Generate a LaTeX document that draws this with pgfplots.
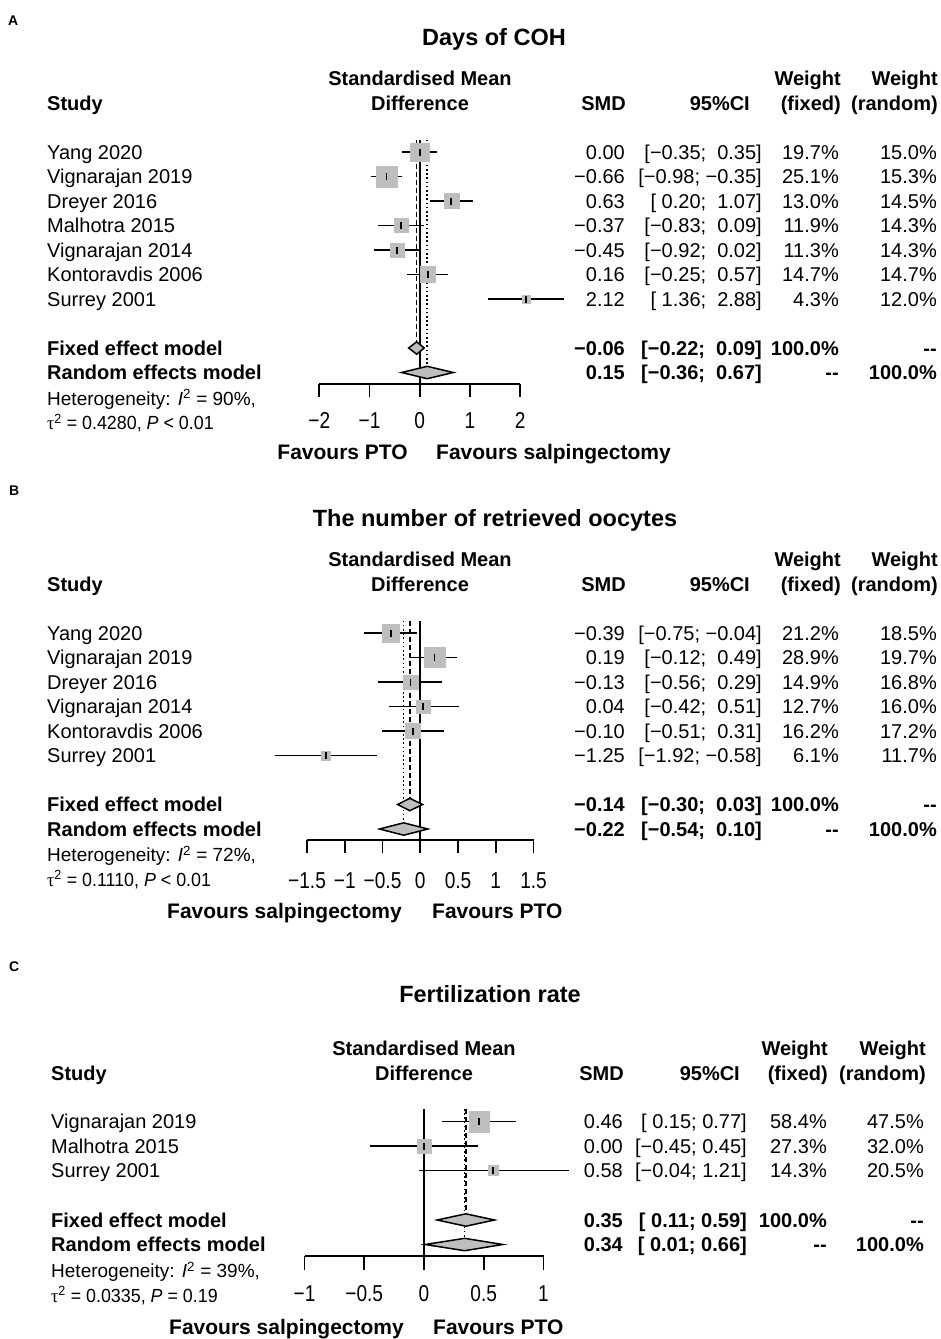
\documentclass[border=0pt]{standalone}
\usepackage{fontspec}
\setmainfont{Liberation Sans}
\newfontfamily\serif{Liberation Serif}
\usepackage{graphicx}
\usepackage{pgfplots}
\usepackage{pgfplotstable}
\pgfplotsset{compat=1.18}
\definecolor{sqgray}{HTML}{BEBEBE}

\newcommand\fs{\fontsize{20}{24}\selectfont}
\newcommand\fsh{\fontsize{19}{23}\selectfont}
\newcommand\fst{\fontsize{23.5}{28}\selectfont\bfseries}
\newcommand\fsl{\fontsize{14}{17}\selectfont\bfseries}
\newcommand\fsf{\fontsize{21}{25}\selectfont\bfseries}
\newcommand\fstick{\fontsize{23}{27}\selectfont}
\newcommand\tl[1]{\scalebox{0.83}[1]{#1}}
\newcommand\nr[1]{\scalebox{0.94}[1]{#1}}

% text helpers: x, centre-y (pixels from top), text
\newcommand\TL[3]{\node[anchor=base west,yshift=-7.2pt] at (#1pt,-#2pt) {#3};}
\newcommand\TR[3]{\node[anchor=base east,yshift=-7.2pt] at (#1pt,-#2pt) {#3};}
\newcommand\TC[3]{\node[anchor=base,yshift=-7.2pt] at (#1pt,-#2pt) {#3};}
% row: y, name, smd, ci, wf, wr (column edges from \xN \xS \xC \xF \xR)
\newcommand\Row[6]{%
  \TL{\xN}{#1}{#2}\TR{\xS}{#1}{#3}\TR{\xC}{#1}{#4}\TR{\xF}{#1}{#5}\TR{\xR}{#1}{#6}}

\pgfplotstableread{
py est lo hi wf
152 0.00 -0.35 0.35 19.7
176.5 -0.66 -0.98 -0.35 25.1
201 0.63 0.20 1.07 13.0
225.5 -0.37 -0.83 0.09 11.9
250 -0.45 -0.92 0.02 11.3
274.5 0.16 -0.25 0.57 14.7
299 2.12 1.36 2.88 4.3
}\tabA
\pgfplotstableread{
py est lo hi wf
633 -0.39 -0.75 -0.04 21.2
657.5 0.19 -0.12 0.49 28.9
682 -0.13 -0.56 0.29 14.9
706.5 0.04 -0.42 0.51 12.7
731 -0.10 -0.51 0.31 16.2
755.5 -1.25 -1.92 -0.58 6.1
}\tabB
\pgfplotstableread{
py est lo hi wf
1121.5 0.46 0.15 0.77 58.4
1146 0.00 -0.45 0.45 27.3
1170.5 0.58 -0.04 1.21 14.3
}\tabC

\pgfplotsset{
  forest/.style={scale only axis, clip=false, anchor=south west,
    axis x line=bottom, axis y line=none,
    x axis line style={-, line width=1.7pt, black},
    tick align=outside, x tick style={line width=1.7pt, black},
    xticklabel style={font=\fstick, anchor=north, inner sep=0pt, text height=16.5pt, text depth=0pt},
  },
  sq/.style={scatter, only marks, mark=square*,
    scatter/use mapped color={draw=sqgray, fill=sqgray},
    visualization depends on={#1*sqrt(\thisrow{wf}) \as \ms},
    scatter/@pre marker code/.append style={/tikz/mark size=\ms}},
  ci/.style={black, only marks, mark=|, mark size=3.5pt, mark options={line width=1.7pt},
    error bars/.cd, x dir=both, x explicit, error mark=none,
    error bar style={line width=1.8pt, black}},
  dia/.style={fill=sqgray, draw=black, line width=1.5pt},
  ref/.style={black, line width=1.7pt},
  fix/.style={black, line width=1.6pt, dash pattern=on 5pt off 3pt},
  ran/.style={black, line width=1.5pt, dash pattern=on 1.6pt off 2.6pt},
}

\begin{document}
\begin{tikzpicture}[every node/.append style={font=\fs, inner sep=0pt}]
\path[use as bounding box] (0pt,0pt) rectangle (940pt,-1339pt);

%% ================= Panel A =================
\begin{axis}[forest, at={(319.3pt,-384.3pt)},
  width=200.8pt, height=245.3pt, xmin=-2, xmax=2, ymin=-384.3, ymax=-139,
  xtick={-2,-1,0,1,2}, xticklabels={\tl{−2},\tl{−1},\tl{0},\tl{1},\tl{2}},
  major tick length=12.5pt, xticklabel style={yshift=-15pt}]
\addplot[sq=2.065] table[x=est, y expr=-\thisrow{py}] {\tabA};
\addplot[ref] coordinates {(0,-139.5) (0,-384.3)};
\addplot[fix] coordinates {(-0.06,-139.5) (-0.06,-342.1)};
\addplot[ran] coordinates {(0.15,-139.5) (0.15,-366.5)};
\addplot[ci] table[x=est, y expr=-\thisrow{py}, x error plus expr=\thisrow{hi}-\thisrow{est}, x error minus expr=\thisrow{est}-\thisrow{lo}] {\tabA};
\addplot[dia] coordinates {(-0.22,-348) (-0.06,-341.8) (0.09,-348) (-0.06,-354.2)} -- cycle;
\addplot[dia] coordinates {(-0.36,-372.5) (0.15,-366.3) (0.67,-372.5) (0.15,-378.7)} -- cycle;
\end{axis}

\node[anchor=base west,font=\fsl] at (8pt,-25pt) {A};
\node[anchor=base,font=\fst] at (494pt,-45.5pt) {Days of COH};
\begin{scope}[every node/.append style={font=\fs\bfseries}]
\TL{47}{103}{Study}
\TC{420}{78.5}{Standardised Mean}
\TC{420}{103}{Difference}
\TR{626}{103}{SMD}
\TR{750}{103}{95\%CI}
\TR{841}{78.5}{Weight}\TR{841}{103}{(fixed)}
\TR{938}{78.5}{Weight}\TR{938}{103}{(random)}
\end{scope}
\def\xN{47}\def\xS{625}\def\xC{762}\def\xF{839}\def\xR{937}
\Row{152}{Yang 2020}{0.00}{[−0.35;\ \ 0.35]}{19.7\%}{15.0\%}
\Row{176.5}{Vignarajan 2019}{−0.66}{[−0.98; −0.35]}{25.1\%}{15.3\%}
\Row{201}{Dreyer 2016}{0.63}{[\ 0.20;\ \ 1.07]}{13.0\%}{14.5\%}
\Row{225.5}{Malhotra 2015}{−0.37}{[−0.83;\ \ 0.09]}{11.9\%}{14.3\%}
\Row{250}{Vignarajan 2014}{−0.45}{[−0.92;\ \ 0.02]}{11.3\%}{14.3\%}
\Row{274.5}{Kontoravdis 2006}{0.16}{[−0.25;\ \ 0.57]}{14.7\%}{14.7\%}
\Row{299}{Surrey 2001}{2.12}{[\ 1.36;\ \ 2.88]}{4.3\%}{12.0\%}
\begin{scope}[every node/.append style={font=\fs\bfseries}]
\Row{348}{Fixed effect model}{−0.06}{[−0.22;\ \ 0.09]}{100.0\%}{-{}-}
\Row{372.5}{Random effects model}{0.15}{[−0.36;\ \ 0.67]}{-{}-}{100.0\%}
\end{scope}
\begin{scope}[every node/.append style={font=\fsh}]
\TL{47}{398}{Heterogeneity: \textit{I}\textsuperscript{2} = 90\%,}
\TL{47}{422.5}{\nr{{\serif τ}\textsuperscript{2} = 0.4280, \textit{P} < 0.01}}
\end{scope}
\begin{scope}[every node/.append style={font=\fsf}]
\TR{408}{452}{Favours PTO}
\TL{436}{452}{Favours salpingectomy}
\end{scope}

%% ================= Panel B =================
\begin{axis}[forest, at={(307.05pt,-840pt)},
  width=226.5pt, height=219.5pt, xmin=-1.5, xmax=1.5, ymin=-840, ymax=-620.5,
  xtick={-1.5,-1,-0.5,0,0.5,1,1.5},
  xticklabels={\tl{−1.5},\tl{−1},\tl{−0.5},\tl{0},\tl{0.5},\tl{1},\tl{1.5}},
  major tick length=13pt, xticklabel style={yshift=-18.7pt}]
\addplot[sq=1.89] table[x=est, y expr=-\thisrow{py}] {\tabB};
\addplot[ref] coordinates {(0,-620.5) (0,-840)};
\addplot[fix] coordinates {(-0.14,-620.5) (-0.14,-798.3)};
\addplot[ran] coordinates {(-0.22,-620.5) (-0.22,-822.8)};
\addplot[ci] table[x=est, y expr=-\thisrow{py}, x error plus expr=\thisrow{hi}-\thisrow{est}, x error minus expr=\thisrow{est}-\thisrow{lo}] {\tabB};
\addplot[dia] coordinates {(-0.30,-804.5) (-0.14,-798.3) (0.03,-804.5) (-0.14,-810.7)} -- cycle;
\addplot[dia] coordinates {(-0.54,-829) (-0.22,-822.8) (0.10,-829) (-0.22,-835.2)} -- cycle;
\end{axis}

\node[anchor=base west,font=\fsl] at (9pt,-495pt) {B};
\node[anchor=base,font=\fst] at (495pt,-526.5pt) {The number of retrieved oocytes};
\begin{scope}[every node/.append style={font=\fs\bfseries}]
\TL{47}{584.5}{Study}
\TC{420}{559.5}{Standardised Mean}
\TC{420}{584.5}{Difference}
\TR{626}{584.5}{SMD}
\TR{750}{584.5}{95\%CI}
\TR{841}{559.5}{Weight}\TR{841}{584.5}{(fixed)}
\TR{938}{559.5}{Weight}\TR{938}{584.5}{(random)}
\end{scope}
\def\xN{47}\def\xS{625}\def\xC{762}\def\xF{839}\def\xR{937}
\Row{633}{Yang 2020}{−0.39}{[−0.75; −0.04]}{21.2\%}{18.5\%}
\Row{657.5}{Vignarajan 2019}{0.19}{[−0.12;\ \ 0.49]}{28.9\%}{19.7\%}
\Row{682}{Dreyer 2016}{−0.13}{[−0.56;\ \ 0.29]}{14.9\%}{16.8\%}
\Row{706.5}{Vignarajan 2014}{0.04}{[−0.42;\ \ 0.51]}{12.7\%}{16.0\%}
\Row{731}{Kontoravdis 2006}{−0.10}{[−0.51;\ \ 0.31]}{16.2\%}{17.2\%}
\Row{755.5}{Surrey 2001}{−1.25}{[−1.92; −0.58]}{6.1\%}{11.7\%}
\begin{scope}[every node/.append style={font=\fs\bfseries}]
\Row{804.5}{Fixed effect model}{−0.14}{[−0.30;\ \ 0.03]}{100.0\%}{-{}-}
\Row{829}{Random effects model}{−0.22}{[−0.54;\ \ 0.10]}{-{}-}{100.0\%}
\end{scope}
\begin{scope}[every node/.append style={font=\fsh}]
\TL{47}{854.5}{Heterogeneity: \textit{I}\textsuperscript{2} = 72\%,}
\TL{47}{879}{\nr{{\serif τ}\textsuperscript{2} = 0.1110, \textit{P} < 0.01}}
\end{scope}
\begin{scope}[every node/.append style={font=\fsf}]
\TR{402}{911}{Favours salpingectomy}
\TL{432}{911}{Favours PTO}
\end{scope}

%% ================= Panel C =================
\begin{axis}[forest, at={(304.5pt,-1255.7pt)},
  width=239pt, height=146.7pt, xmin=-1, xmax=1, ymin=-1255.7, ymax=-1109,
  xtick={-1,-0.5,0,0.5,1},
  xticklabels={\tl{−1},\tl{−0.5},\tl{0},\tl{0.5},\tl{1}},
  major tick length=14pt, xticklabel style={yshift=-15pt}]
\addplot[sq=1.34] table[x=est, y expr=-\thisrow{py}] {\tabC};
\addplot[ref] coordinates {(0,-1109) (0,-1255.7)};
\addplot[fix] coordinates {(0.35,-1109) (0.35,-1213.8)};
\addplot[ran] coordinates {(0.34,-1109) (0.34,-1238.3)};
\addplot[ci] table[x=est, y expr=-\thisrow{py}, x error plus expr=\thisrow{hi}-\thisrow{est}, x error minus expr=\thisrow{est}-\thisrow{lo}] {\tabC};
\addplot[dia] coordinates {(0.11,-1220) (0.35,-1213.8) (0.59,-1220) (0.35,-1226.2)} -- cycle;
\addplot[dia] coordinates {(0.01,-1244.5) (0.34,-1238.3) (0.66,-1244.5) (0.34,-1250.7)} -- cycle;
\end{axis}

\node[anchor=base west,font=\fsl] at (9pt,-971pt) {C};
\node[anchor=base,font=\fst] at (490pt,-1002.5pt) {Fertilization rate};
\begin{scope}[every node/.append style={font=\fs\bfseries}]
\TL{51}{1073.3}{Study}
\TC{424}{1048.3}{Standardised Mean}
\TC{424}{1073.3}{Difference}
\TR{624}{1073.3}{SMD}
\TR{740}{1073.3}{95\%CI}
\TR{828}{1048.3}{Weight}\TR{828}{1073.3}{(fixed)}
\TR{926}{1048.3}{Weight}\TR{926}{1073.3}{(random)}
\end{scope}
\def\xN{51}\def\xS{623}\def\xC{747}\def\xF{827}\def\xR{924}
\Row{1121.5}{Vignarajan 2019}{0.46}{[\ 0.15; 0.77]}{58.4\%}{47.5\%}
\Row{1146}{Malhotra 2015}{0.00}{[−0.45; 0.45]}{27.3\%}{32.0\%}
\Row{1170.5}{Surrey 2001}{0.58}{[−0.04; 1.21]}{14.3\%}{20.5\%}
\begin{scope}[every node/.append style={font=\fs\bfseries}]
\Row{1220}{Fixed effect model}{0.35}{[\ 0.11; 0.59]}{100.0\%}{-{}-}
\Row{1244.5}{Random effects model}{0.34}{[\ 0.01; 0.66]}{-{}-}{100.0\%}
\end{scope}
\begin{scope}[every node/.append style={font=\fsh}]
\TL{51}{1270.5}{Heterogeneity: \textit{I}\textsuperscript{2} = 39\%,}
\TL{51}{1295}{\nr{{\serif τ}\textsuperscript{2} = 0.0335, \textit{P} = 0.19}}
\end{scope}
\begin{scope}[every node/.append style={font=\fsf}]
\TR{404}{1327}{Favours salpingectomy}
\TL{433}{1327}{Favours PTO}
\end{scope}
\end{tikzpicture}
\end{document}
